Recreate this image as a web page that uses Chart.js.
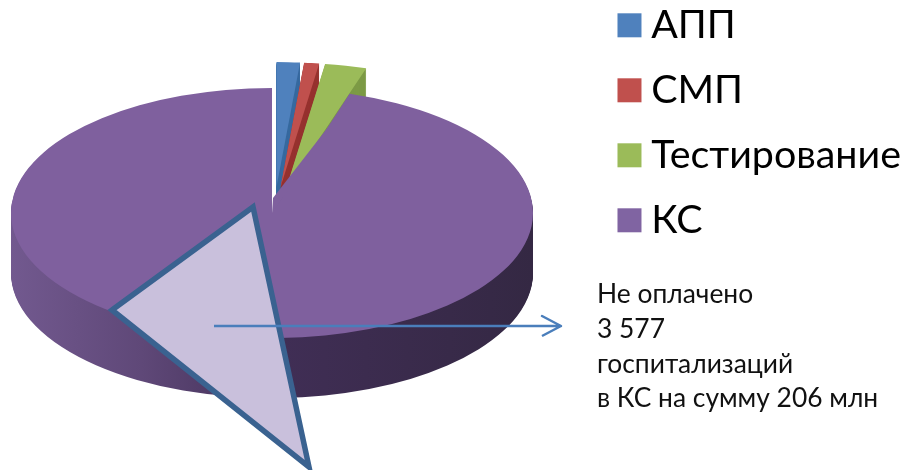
<!DOCTYPE html>
<html><head><meta charset="utf-8">
<style>html,body{margin:0;padding:0;background:#fff}#w{width:903px;height:470px;position:relative;overflow:hidden}</style>
<script src="https://cdn.jsdelivr.net/npm/chart.js@4"></script>
</head><body><div id="w"><canvas id="c" width="903" height="470"></canvas></div>
<script>
const categories = ['АПП','СМП','Тестирование','КС'];
const shares = [1.4,0.9,2.5,95.2];
const explode = [0.208,0.208,0.208,0];
const topColors = ['#4f81bd','#c0504d','#9bbb59','#7f609e'];
const sideColors = ['#386a9f','#96322f','#7c9a45',null];
const legendColors = ['#4f81bd','#c0504d','#9bbb59','#8064a2'];
const unpaidX = [253,112,309,253,112];
const unpaidY = [207,310,467,207,310];
const wedgeX = [273,272,353];
const wedgeY = [198,214,95];
const arrowX = [214,561,542,561,542];
const arrowY = [326,326,316,326,336];
const noteLines = ['Не оплачено','3 577','госпитализаций','в КС на сумму 206 млн'];
const FONT = 'Lato, "Open Sans", sans-serif';
const pts = (xs,ys)=>xs.map((x,i)=>({x,y:ys[i]}));

const pie3d = {
  id:'pie3d',
  afterLayout(chart){
    const a=chart.chartArea,{x,y}=chart.scales;
    x.min=a.left;x.max=a.right;x.configure();
    y.min=a.top;y.max=a.bottom;y.configure();
  },
  beforeDatasetDraw(chart,args){
    if(args.meta.type!=='pie') return;
    const ctx=chart.ctx, arcs=args.meta.data, R=arcs[0].outerRadius;
    const geo=(i,d)=>{
      const small=i<3, k=small?1.03:1, a=arcs[i], mid=(a.startAngle+a.endAngle)/2;
      ctx.translate(small?274:272,213+d);
      ctx.scale(261/R*k,125/R);
      ctx.translate(-a.x+Math.cos(mid)*explode[i]*R,-a.y+Math.sin(mid)*explode[i]*R);
    };
    const grad=ctx.createLinearGradient(arcs[3].x-R,0,arcs[3].x+R,0);
    grad.addColorStop(0,'#72598f');grad.addColorStop(0.25,'#5f4878');
    grad.addColorStop(0.52,'#402e55');grad.addColorStop(1,'#342843');
    arcs.forEach((a,i)=>{
      const o=a.options;
      a.options=Object.create(o,{backgroundColor:{value:sideColors[i]||grad},borderWidth:{value:0}});
      for(let d=60;d>0;d--){ctx.save();geo(i,d);a.draw(ctx);ctx.restore();}
      a.options=o;
      ctx.save();geo(i,0);a.draw(ctx);ctx.restore();
    });
    return false;
  },
  afterDraw(chart){
    const ctx=chart.ctx;ctx.save();
    ctx.font='26.4px '+FONT;ctx.fillStyle='#111';ctx.textBaseline='alphabetic';
    const ys=[303,338,373,407];
    noteLines.forEach((t,i)=>ctx.fillText(t,597,ys[i]));
    ctx.restore();
  }
};

new Chart(document.getElementById('c'),{
  type:'scatter',
  data:{datasets:[
    {type:'scatter',order:1,showLine:true,clip:false,data:pts(arrowX,arrowY),borderColor:'#4a7ebb',borderWidth:2.5,pointRadius:0,fill:false,borderJoinStyle:'round'},
    {type:'scatter',order:2,showLine:true,clip:false,data:pts(unpaidX,unpaidY),borderColor:'#3a6290',backgroundColor:'#c9c0dc',borderWidth:5.5,pointRadius:0,fill:'shape',borderJoinStyle:'miter'},
    {type:'scatter',order:3,showLine:true,clip:false,data:pts(wedgeX,wedgeY),borderColor:'#7f609e',backgroundColor:'#7f609e',borderWidth:0,pointRadius:0,fill:'shape'},
    {type:'pie',order:4,clip:false,data:shares,backgroundColor:topColors,borderWidth:0}
  ]},
  options:{
    responsive:false,animation:false,
    layout:{padding:{top:-20,right:-8,left:0,bottom:0}},
    scales:{
      x:{type:'linear',display:false,min:0,max:624},
      y:{type:'linear',display:false,min:-20,max:470,reverse:true}
    },
    plugins:{
      tooltip:{enabled:false},
      legend:{position:'right',align:'start',labels:{
        usePointStyle:true,boxWidth:4,boxHeight:24,padding:25.6,color:'#000',
        font:{family:FONT,size:39.4},
        generateLabels:()=>categories.map((t,i)=>({text:t,fillStyle:legendColors[i],strokeStyle:legendColors[i],lineWidth:0,pointStyle:'rect',hidden:false,index:i}))
      }}
    }
  },
  plugins:[pie3d]
});
</script></body></html>
